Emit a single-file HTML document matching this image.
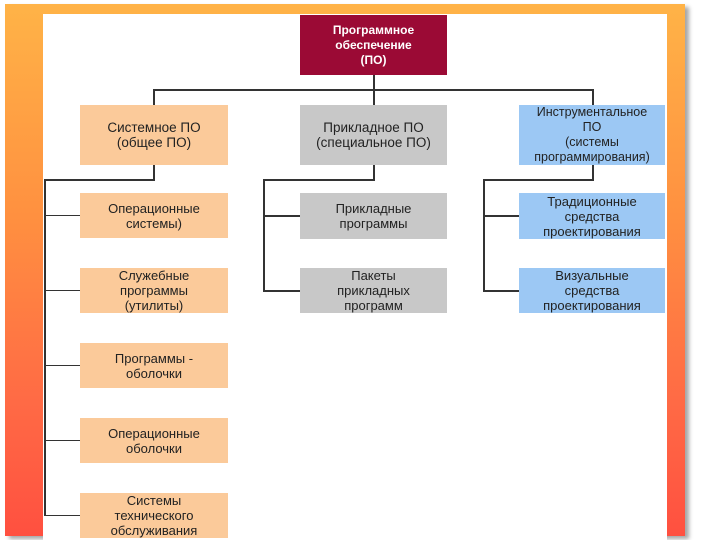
<!DOCTYPE html>
<html><head><meta charset="utf-8"><style>
body{margin:0;width:720px;height:540px;position:relative;overflow:hidden;background:#fff;font-family:"Liberation Sans","DejaVu Sans",sans-serif;}
.frame{position:absolute;left:5px;top:4px;width:680px;height:532px;background:linear-gradient(180deg,#ffb347 0%,#ff9040 40%,#ff6a45 75%,#ff5040 100%);box-shadow:4px 3px 4px rgba(0,0,0,.35);}
.white{position:absolute;left:43px;top:14px;width:624px;height:526px;background:#fff;}
.b{position:absolute;display:flex;align-items:center;justify-content:center;text-align:center;font-size:13px;line-height:15px;color:#222;}
.o{background:#fbca9a;left:80px;width:148px;}
.g{background:#c8c8c8;left:300px;width:147px;}
.u{background:#9cc8f4;left:519px;width:146px;}
.l{position:absolute;background:#333;}
</style></head><body>
<div class="frame"></div>
<div class="white"></div>
<div class="b" style="left:300px;top:15px;width:147px;height:60px;background:#9b0a35;color:#fff;font-weight:bold;font-size:12px;">Программное<br>обеспечение<br>(ПО)</div>
<div class="l" style="left:373px;top:75px;width:2px;height:30px;"></div>
<div class="l" style="left:153px;top:89px;width:441px;height:2px;"></div>
<div class="l" style="left:153px;top:89px;width:2px;height:16px;"></div>
<div class="l" style="left:592px;top:89px;width:2px;height:16px;"></div>

<div class="b o" style="top:105px;height:60px;font-size:13.5px;">Системное ПО<br>(общее ПО)</div>
<div class="b g" style="top:105px;height:60px;font-size:13.5px;">Прикладное ПО<br>(специальное ПО)</div>
<div class="b u" style="top:105px;height:60px;font-size:12.5px;">Инструментальное<br>ПО<br>(системы<br>программирования)</div>

<div class="l" style="left:153px;top:165px;width:2px;height:15px;"></div>
<div class="l" style="left:44px;top:179px;width:111px;height:2px;"></div>
<div class="l" style="left:44px;top:179px;width:2px;height:337px;"></div>
<div class="l" style="left:44px;top:215px;width:36px;height:1px;"></div>
<div class="l" style="left:44px;top:290px;width:36px;height:1px;"></div>
<div class="l" style="left:44px;top:365px;width:36px;height:1px;"></div>
<div class="l" style="left:44px;top:440px;width:36px;height:1px;"></div>
<div class="l" style="left:44px;top:515px;width:36px;height:1px;"></div>

<div class="l" style="left:373px;top:165px;width:2px;height:15px;"></div>
<div class="l" style="left:263px;top:179px;width:112px;height:2px;"></div>
<div class="l" style="left:263px;top:179px;width:2px;height:112px;"></div>
<div class="l" style="left:263px;top:215px;width:37px;height:2px;"></div>
<div class="l" style="left:263px;top:290px;width:37px;height:2px;"></div>

<div class="l" style="left:592px;top:165px;width:2px;height:15px;"></div>
<div class="l" style="left:483px;top:179px;width:111px;height:2px;"></div>
<div class="l" style="left:483px;top:179px;width:2px;height:112px;"></div>
<div class="l" style="left:483px;top:215px;width:36px;height:2px;"></div>
<div class="l" style="left:483px;top:290px;width:36px;height:2px;"></div>

<div class="b o" style="top:193px;height:45px;">Операционные<br>системы)</div>
<div class="b o" style="top:268px;height:45px;">Служебные<br>программы<br>(утилиты)</div>
<div class="b o" style="top:343px;height:45px;">Программы -<br>оболочки</div>
<div class="b o" style="top:418px;height:45px;">Операционные<br>оболочки</div>
<div class="b o" style="top:493px;height:45px;">Системы<br>технического<br>обслуживания</div>

<div class="b g" style="top:193px;height:46px;">Прикладные<br>программы</div>
<div class="b g" style="top:268px;height:45px;">Пакеты<br>прикладных<br>программ</div>

<div class="b u" style="top:193px;height:46px;">Традиционные<br>средства<br>проектирования</div>
<div class="b u" style="top:268px;height:45px;">Визуальные<br>средства<br>проектирования</div>
</body></html>
